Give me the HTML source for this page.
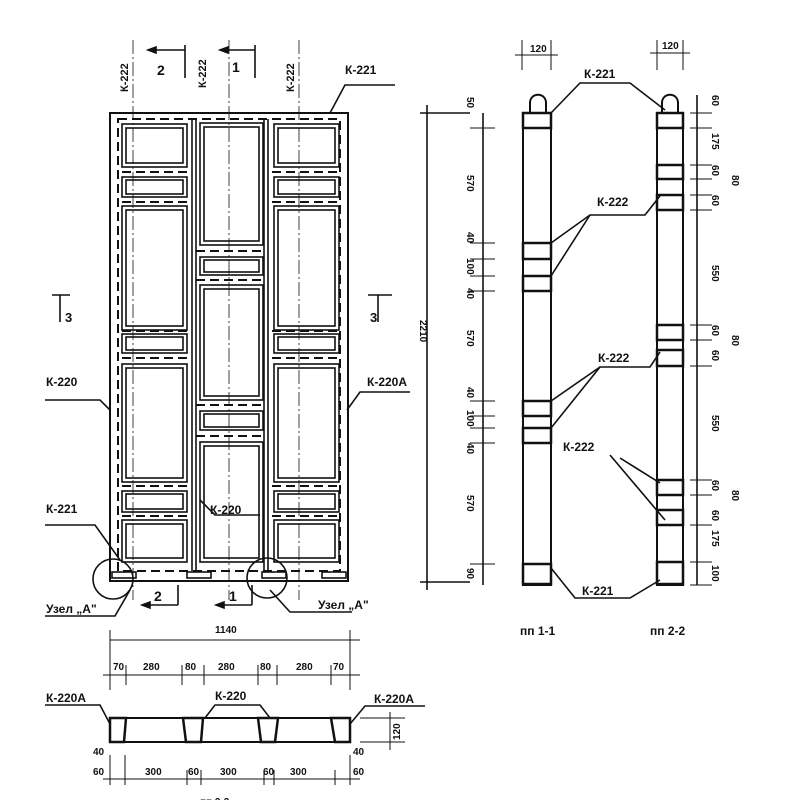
<!DOCTYPE html>
<html><head><meta charset="utf-8"><style>
html,body{margin:0;padding:0;background:#fff}
svg{display:block}
text{font-family:"Liberation Sans",sans-serif;font-weight:bold;fill:#111}
</style></head><body>
<svg width="800" height="800" viewBox="0 0 800 800" xmlns="http://www.w3.org/2000/svg">
<g stroke="#111" fill="none" stroke-width="1.6">
<rect x="110" y="113" width="238" height="468" stroke-width="2"/>
<g stroke-dasharray="9,5" stroke-width="2">
<rect x="118" y="119" width="222" height="452"/>
<line x1="122" y1="172" x2="188" y2="172"/><line x1="122" y1="202" x2="188" y2="202"/>
<line x1="122" y1="331" x2="188" y2="331"/><line x1="122" y1="358" x2="188" y2="358"/>
<line x1="122" y1="486" x2="188" y2="486"/><line x1="122" y1="516" x2="188" y2="516"/>
<line x1="272" y1="172" x2="338" y2="172"/><line x1="272" y1="202" x2="338" y2="202"/>
<line x1="272" y1="331" x2="338" y2="331"/><line x1="272" y1="358" x2="338" y2="358"/>
<line x1="272" y1="486" x2="338" y2="486"/><line x1="272" y1="516" x2="338" y2="516"/>
<line x1="196" y1="251" x2="264" y2="251"/><line x1="196" y1="280" x2="264" y2="280"/>
<line x1="196" y1="405" x2="264" y2="405"/><line x1="196" y1="436" x2="264" y2="436"/>
</g>
<line x1="192" y1="119" x2="192" y2="571"/><line x1="196" y1="119" x2="196" y2="571"/>
<line x1="264" y1="119" x2="264" y2="571"/><line x1="268" y1="119" x2="268" y2="571"/>
<g>
<rect x="122" y="124" width="65" height="43"/><rect x="126" y="128" width="57" height="35"/>
<rect x="122" y="177" width="65" height="20"/><rect x="126" y="180" width="57" height="14"/>
<rect x="122" y="206" width="65" height="124"/><rect x="126" y="210" width="57" height="116"/>
<rect x="122" y="334" width="65" height="19"/><rect x="126" y="337" width="57" height="13"/>
<rect x="122" y="364" width="65" height="118"/><rect x="126" y="368" width="57" height="110"/>
<rect x="122" y="491" width="65" height="21"/><rect x="126" y="494" width="57" height="15"/>
<rect x="122" y="520" width="65" height="42"/><rect x="126" y="524" width="57" height="34"/>
</g>
<g transform="translate(152,0)">
<rect x="122" y="124" width="65" height="43"/><rect x="126" y="128" width="57" height="35"/>
<rect x="122" y="177" width="65" height="20"/><rect x="126" y="180" width="57" height="14"/>
<rect x="122" y="206" width="65" height="124"/><rect x="126" y="210" width="57" height="116"/>
<rect x="122" y="334" width="65" height="19"/><rect x="126" y="337" width="57" height="13"/>
<rect x="122" y="364" width="65" height="118"/><rect x="126" y="368" width="57" height="110"/>
<rect x="122" y="491" width="65" height="21"/><rect x="126" y="494" width="57" height="15"/>
<rect x="122" y="520" width="65" height="42"/><rect x="126" y="524" width="57" height="34"/>
</g>
<rect x="200" y="123" width="63" height="122"/><rect x="204" y="127" width="55" height="114"/>
<rect x="200" y="257" width="63" height="18"/><rect x="204" y="260" width="55" height="12"/>
<rect x="200" y="285" width="63" height="115"/><rect x="204" y="289" width="55" height="107"/>
<rect x="200" y="411" width="63" height="19"/><rect x="204" y="414" width="55" height="13"/>
<rect x="200" y="442" width="63" height="120"/><rect x="204" y="446" width="55" height="112"/>
<rect x="112" y="572" width="24" height="6"/><rect x="187" y="572" width="24" height="6"/><rect x="262" y="572" width="24" height="6"/><rect x="322" y="572" width="24" height="6"/>
<g stroke-width="0.8" stroke-dasharray="14,3,2,3">
<line x1="133" y1="40" x2="133" y2="600"/><line x1="229" y1="40" x2="229" y2="600"/><line x1="299" y1="40" x2="299" y2="600"/>
</g>
<circle cx="113" cy="579" r="20"/><circle cx="267" cy="578" r="20"/>
<path d="M130 590 L115 616 L45 616"/><path d="M270 590 L290 612 L352 612"/>
<path d="M330 113 L345 85 L395 85"/>
<path d="M110 410 L100 400 L45 400"/><path d="M347 410 L360 392 L410 392"/>
<path d="M120 560 L95 525 L45 525"/><path d="M200 500 L215 515 L260 515"/>
<!-- section markers -->
<path d="M185 78 L185 45 M148 50 L185 50"/><path d="M148 50 L156 47 L156 53 Z" fill="#111"/>
<path d="M255 78 L255 45 M220 50 L255 50"/><path d="M220 50 L228 47 L228 53 Z" fill="#111"/>
<path d="M178 605 L178 585 M142 605 L178 605"/><path d="M142 605 L150 602 L150 608 Z" fill="#111"/>
<path d="M252 605 L252 585 M216 605 L252 605"/><path d="M216 605 L224 602 L224 608 Z" fill="#111"/>
<path d="M60 295 L60 322 M52 295 L70 295"/><path d="M378 295 L378 322 M368 295 L392 295"/>
<line x1="427" y1="105" x2="427" y2="590"/>
<line x1="420" y1="113" x2="470" y2="113"/><line x1="420" y1="582" x2="470" y2="582"/>
<line x1="483" y1="113" x2="483" y2="585"/>
<rect x="523" y="113" width="28" height="472" stroke-width="2"/>
<path d="M530 113 L530 103 C530 92 546 92 546 103 L546 113" stroke-width="2"/>
<rect x="523" y="113" width="28" height="15" stroke-width="2.5"/>
<rect x="523" y="243" width="28" height="16" stroke-width="2.5"/>
<rect x="523" y="276" width="28" height="15" stroke-width="2.5"/>
<rect x="523" y="401" width="28" height="15" stroke-width="2.5"/>
<rect x="523" y="428" width="28" height="15" stroke-width="2.5"/>
<rect x="523" y="564" width="28" height="20" stroke-width="2.5"/>
<line x1="697" y1="95" x2="697" y2="585"/>
<rect x="657" y="113" width="26" height="472" stroke-width="2"/>
<path d="M662 113 L662 103 C662 92 678 92 678 103 L678 113" stroke-width="2"/>
<rect x="657" y="113" width="26" height="15" stroke-width="2.5"/>
<rect x="657" y="165" width="26" height="14" stroke-width="2.5"/>
<rect x="657" y="195" width="26" height="15" stroke-width="2.5"/>
<rect x="657" y="325" width="26" height="15" stroke-width="2.5"/>
<rect x="657" y="350" width="26" height="16" stroke-width="2.5"/>
<rect x="657" y="480" width="26" height="15" stroke-width="2.5"/>
<rect x="657" y="510" width="26" height="15" stroke-width="2.5"/>
<rect x="657" y="562" width="26" height="22" stroke-width="2.5"/>
<g stroke-width="1">
<line x1="690" y1="113" x2="712" y2="113"/><line x1="690" y1="128" x2="712" y2="128"/><line x1="690" y1="165" x2="712" y2="165"/><line x1="690" y1="179" x2="712" y2="179"/><line x1="690" y1="195" x2="712" y2="195"/><line x1="690" y1="210" x2="712" y2="210"/><line x1="690" y1="325" x2="712" y2="325"/><line x1="690" y1="340" x2="712" y2="340"/><line x1="690" y1="366" x2="712" y2="366"/><line x1="690" y1="480" x2="712" y2="480"/><line x1="690" y1="495" x2="712" y2="495"/><line x1="690" y1="525" x2="712" y2="525"/><line x1="690" y1="562" x2="712" y2="562"/><line x1="690" y1="585" x2="712" y2="585"/>
<line x1="470" y1="128" x2="495" y2="128"/><line x1="470" y1="243" x2="495" y2="243"/><line x1="470" y1="259" x2="495" y2="259"/><line x1="470" y1="276" x2="495" y2="276"/><line x1="470" y1="291" x2="495" y2="291"/><line x1="470" y1="401" x2="495" y2="401"/><line x1="470" y1="416" x2="495" y2="416"/><line x1="470" y1="428" x2="495" y2="428"/><line x1="470" y1="443" x2="495" y2="443"/><line x1="470" y1="564" x2="495" y2="564"/>
<line x1="522" y1="40" x2="522" y2="70"/><line x1="551" y1="40" x2="551" y2="70"/><line x1="515" y1="55" x2="558" y2="55"/>
<line x1="657" y1="40" x2="657" y2="70"/><line x1="683" y1="40" x2="683" y2="70"/><line x1="650" y1="53" x2="690" y2="53"/>
</g>
<path d="M551 113 L580 83 L630 83 L665 110"/>
<path d="M551 243 L590 215 L645 215 L660 196"/><path d="M551 276 L590 215"/>
<path d="M551 401 L600 367 L650 367 L660 352"/><path d="M551 428 L600 367"/>
<path d="M610 455 L665 520"/><path d="M620 458 L660 483"/>
<path d="M551 568 L575 598 L630 598 L660 580"/>
<g stroke-width="1">
<line x1="110" y1="640" x2="360" y2="640"/><line x1="103" y1="675" x2="360" y2="675"/>
<line x1="110" y1="630" x2="110" y2="690"/><line x1="350" y1="630" x2="350" y2="690"/>
<line x1="126" y1="665" x2="126" y2="685"/><line x1="182" y1="665" x2="182" y2="685"/><line x1="204" y1="665" x2="204" y2="685"/><line x1="258" y1="665" x2="258" y2="685"/><line x1="277" y1="665" x2="277" y2="685"/><line x1="331" y1="665" x2="331" y2="685"/>
<line x1="103" y1="779" x2="360" y2="779"/>
<line x1="110" y1="755" x2="110" y2="785"/><line x1="125" y1="755" x2="125" y2="785"/><line x1="187" y1="770" x2="187" y2="785"/><line x1="201" y1="770" x2="201" y2="785"/><line x1="264" y1="770" x2="264" y2="785"/><line x1="274" y1="770" x2="274" y2="785"/><line x1="335" y1="770" x2="335" y2="785"/><line x1="350" y1="755" x2="350" y2="785"/>
<line x1="360" y1="718" x2="405" y2="718"/><line x1="360" y1="742" x2="405" y2="742"/><line x1="390" y1="712" x2="390" y2="750"/>
</g>
<rect x="110" y="718" width="240" height="24" stroke-width="2"/>
<path d="M110 718 L126 718 L124 742 L110 742 Z" stroke-width="2.5"/>
<path d="M183 718 L203 718 L201 742 L186 742 Z" stroke-width="2.5"/>
<path d="M258 718 L278 718 L275 742 L261 742 Z" stroke-width="2.5"/>
<path d="M331 718 L350 718 L350 742 L335 742 Z" stroke-width="2.5"/>
<path d="M110 724 L100 705 L45 705"/><path d="M350 724 L365 706 L425 706"/>
<path d="M205 718 L215 705 L260 705 L270 718"/>
</g>
<g font-size="12">
<text x="345" y="74">К-221</text>
<text x="46" y="386">К-220</text><text x="367" y="386">К-220А</text>
<text x="46" y="513">К-221</text><text x="210" y="514">К-220</text>
<text x="46" y="613">Узел „А"</text><text x="318" y="609">Узел „А"</text>
<text x="157" y="75" font-size="14">2</text><text x="232" y="72" font-size="14">1</text>
<text x="154" y="601" font-size="14">2</text><text x="229" y="601" font-size="14">1</text>
<text x="65" y="322" font-size="13">3</text><text x="370" y="322" font-size="13">3</text>
<text x="584" y="78">К-221</text><text x="597" y="206">К-222</text>
<text x="598" y="362">К-222</text><text x="563" y="451">К-222</text>
<text x="582" y="595">К-221</text>
<text x="520" y="635">пп 1-1</text><text x="650" y="635">пп 2-2</text>
<text x="530" y="52" font-size="10">120</text><text x="662" y="49" font-size="10">120</text>
<text x="215" y="633" font-size="10">1140</text>
<text x="113" y="670" font-size="10">70</text><text x="143" y="670" font-size="10">280</text><text x="185" y="670" font-size="10">80</text><text x="218" y="670" font-size="10">280</text><text x="260" y="670" font-size="10">80</text><text x="296" y="670" font-size="10">280</text><text x="333" y="670" font-size="10">70</text>
<text x="46" y="702">К-220А</text><text x="215" y="700">К-220</text><text x="374" y="703">К-220А</text>
<text x="93" y="755" font-size="10">40</text><text x="93" y="775" font-size="10">60</text>
<text x="145" y="775" font-size="10">300</text><text x="188" y="775" font-size="10">60</text><text x="220" y="775" font-size="10">300</text><text x="263" y="775" font-size="10">60</text><text x="290" y="775" font-size="10">300</text>
<text x="353" y="755" font-size="10">40</text><text x="353" y="775" font-size="10">60</text>
<text x="200" y="805" font-size="10">пп 3-3</text>
</g>
<g font-size="11">
<text transform="translate(128,92) rotate(-90)">К-222</text>
<text transform="translate(206,88) rotate(-90)">К-222</text>
<text transform="translate(294,92) rotate(-90)">К-222</text>
</g>
<g font-size="10">
<text transform="translate(420,320) rotate(90)">2210</text>
<text transform="translate(400,740) rotate(-90)">120</text>
<text transform="translate(467,97) rotate(90)">50</text>
<text transform="translate(467,175) rotate(90)">570</text>
<text transform="translate(467,232) rotate(90)">40</text>
<text transform="translate(467,258) rotate(90)">100</text>
<text transform="translate(467,288) rotate(90)">40</text>
<text transform="translate(467,330) rotate(90)">570</text>
<text transform="translate(467,387) rotate(90)">40</text>
<text transform="translate(467,410) rotate(90)">100</text>
<text transform="translate(467,443) rotate(90)">40</text>
<text transform="translate(467,495) rotate(90)">570</text>
<text transform="translate(467,568) rotate(90)">90</text>
<text transform="translate(712,95) rotate(90)">60</text>
<text transform="translate(712,133) rotate(90)">175</text>
<text transform="translate(712,165) rotate(90)">60</text>
<text transform="translate(712,195) rotate(90)">60</text>
<text transform="translate(712,265) rotate(90)">550</text>
<text transform="translate(712,325) rotate(90)">60</text>
<text transform="translate(712,350) rotate(90)">60</text>
<text transform="translate(712,415) rotate(90)">550</text>
<text transform="translate(712,480) rotate(90)">60</text>
<text transform="translate(712,510) rotate(90)">60</text>
<text transform="translate(712,530) rotate(90)">175</text>
<text transform="translate(712,565) rotate(90)">100</text>
<text transform="translate(732,175) rotate(90)">80</text>
<text transform="translate(732,335) rotate(90)">80</text>
<text transform="translate(732,490) rotate(90)">80</text>
</g>
</svg>
</body></html>
